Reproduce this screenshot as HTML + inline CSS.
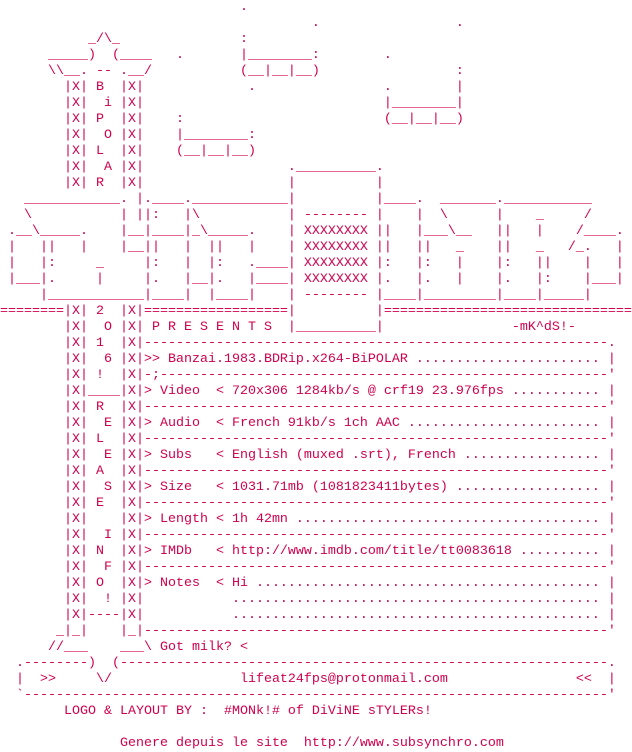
<!DOCTYPE html>
<html><head><meta charset="utf-8"><style>
html,body{margin:0;padding:0;background:#fff;width:632px;height:752px;overflow:hidden}
pre{margin:0;padding:0;font-family:"Liberation Mono","DejaVu Sans Mono",monospace;font-size:13.33px;line-height:16px;color:#d1004c;white-space:pre}
</style></head><body><pre>                              .
                                       .                 .
           _/\_               :
      _____)  (____   .       |________:        .
      \\__. -- .__/           (__|__|__)                 :
        |X| B  |X|             .                .        |
        |X|  i |X|                              |________|
        |X| P  |X|    :                         (__|__|__)
        |X|  O |X|    |________:
        |X| L  |X|    (__|__|__)
        |X|  A |X|                  .__________.
        |X| R  |X|                  |          |
   ____________. |.____.____________|          |____.  _______.___________
   \           | ||:   |\           | -------- |    |  \      |    _     /
 .__\_____.    |__|____|_\_____.    | XXXXXXXX ||   |___\__   ||   |    /____.
 |   ||   |    |__||   |  ||   |    | XXXXXXXX ||   ||   _    ||   _   /_.   |
 |   |:     _     |:   |  |:   .____| XXXXXXXX |:   |:   |    |:   ||    |   |
 |___|.     |     |.   |__|.   |____| XXXXXXXX |.   |.   |    |.   |:    |___|
     |____________|____|  |____|    | -------- |____|_________|____|_____|
========|X| 2  |X|==================|          |===============================
        |X|  O |X| P R E S E N T S  |__________|                -mK^dS!-
        |X| 1  |X|----------------------------------------------------------.
        |X|  6 |X|&gt;&gt; Banzai.1983.BDRip.x264-BiPOLAR ....................... |
        |X| !  |X|-;--------------------------------------------------------'
        |X|____|X|&gt; Video  &lt; 720x306 1284kb/s @ crf19 23.976fps ........... |
        |X| R  |X|----------------------------------------------------------'
        |X|  E |X|&gt; Audio  &lt; French 91kb/s 1ch AAC ........................ |
        |X| L  |X|----------------------------------------------------------'
        |X|  E |X|&gt; Subs   &lt; English (muxed .srt), French ................. |
        |X| A  |X|----------------------------------------------------------'
        |X|  S |X|&gt; Size   &lt; 1031.71mb (1081823411bytes) .................. |
        |X| E  |X|----------------------------------------------------------'
        |X|    |X|&gt; Length &lt; 1h 42mn ...................................... |
        |X|  I |X|----------------------------------------------------------'
        |X| N  |X|&gt; IMDb   &lt; http://www.imdb.com/title/tt0083618 .......... |
        |X|  F |X|----------------------------------------------------------'
        |X| O  |X|&gt; Notes  &lt; Hi ........................................... |
        |X|  ! |X|           .............................................. |
        |X|----|X|           .............................................. |
       _|_|    |_|----------------------------------------------------------'
      //___    ___\ Got milk? &lt;
  .--------)  (-------------------------------------------------------------.
  |  &gt;&gt;     \/                lifeat24fps@protonmail.com                &lt;&lt;  |
  `-------------------------------------------------------------------------'
        LOGO &amp; LAYOUT BY :  #MONk!# of DiViNE sTYLERs!

               Genere depuis le site  http://www.subsynchro.com
</pre></body></html>
